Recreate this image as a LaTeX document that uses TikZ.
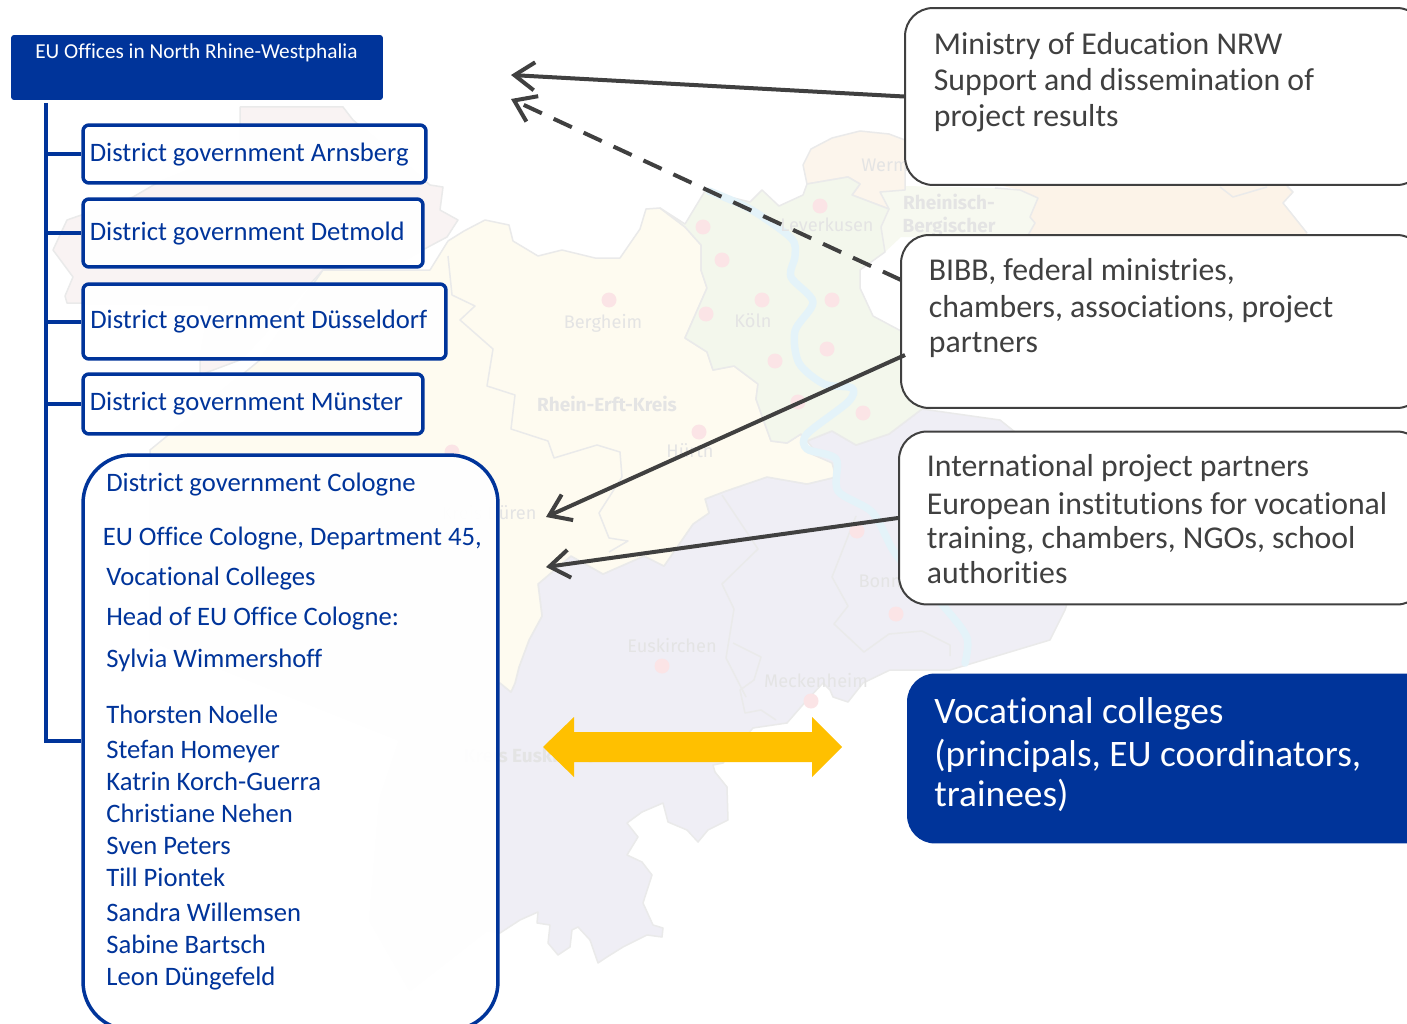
\documentclass[tikz,border=0pt]{standalone}
\usepackage{fontspec}
\setmainfont{Carlito}[Ligatures=CommonOff]
\newfontfamily\mapfont{Fira Sans}
\usetikzlibrary{arrows.meta}
\definecolor{euBlue}{HTML}{00349A}
\definecolor{txtGray}{HTML}{404040}
\definecolor{mapLine}{HTML}{EAEAEA}
\definecolor{mapText}{HTML}{E4E4E4}
\definecolor{riverC}{HTML}{E4F3F9}
\definecolor{dotC}{HTML}{FBE4E6}
\definecolor{HtmlPink}{HTML}{F9F3F3}
\definecolor{HtmlOrangeA}{HTML}{FCF5EC}
\definecolor{HtmlOrangeB}{HTML}{FCF3E8}
\definecolor{HtmlPaleGreen}{HTML}{F7F9F0}
\definecolor{HtmlPurple}{HTML}{EFEEF5}
\definecolor{HtmlYellow}{HTML}{FEFBF0}
\definecolor{HtmlGreen}{HTML}{F3F7EC}
\definecolor{HtmlGold}{HTML}{FFC000}
\newcommand{\setpx}[1]{\fontsize{\dimexpr #1pt*569/1000\relax}{\dimexpr #1pt*700/1000\relax}\selectfont}
\tikzset{
  x=0.02cm,y=-0.02cm,
  region/.style={draw=mapLine,line width=0.03cm,line join=round},
  inner line/.style={draw=mapLine,line width=0.03cm,line join=round},
  river/.style={draw=riverC,line width=0.15cm,line cap=round,line join=round},
  dot/.style={fill=dotC,draw=none,circle,minimum size=0.3cm,inner sep=0pt},
  maplabel/.style={anchor=base,inner sep=0pt,text=mapText,font=\mapfont\setpx{18.2}},
  maplabelB/.style={anchor=base,inner sep=0pt,text=mapText,font=\mapfont\bfseries\setpx{19}},
  distbox/.style={draw=euBlue,line width=0.07cm,fill=white,fill opacity=0.96,rounded corners=0.12cm,inner sep=0pt},
  trunk/.style={draw=euBlue,line width=0.08cm},
  distText/.style={anchor=base west,inner sep=0pt,text=euBlue,font=\setpx{26.65}},
  nameText/.style={anchor=base west,inner sep=0pt,text=euBlue,font=\setpx{26.65}},
  callbox/.style={draw=txtGray,line width=0.04cm,fill=white,rounded corners=0.56cm,inner sep=0pt},
  callText/.style={anchor=base west,inner sep=0pt,text=txtGray,font=\setpx{31.8}},
  bigText/.style={anchor=base west,inner sep=0pt,text=white,font=\setpx{37.4}},
  conn/.style={draw=txtGray,line width=0.08cm,-{Straight Barb[length=0.4cm,width=0.56cm,line width=0.08cm]}},
}
\begin{document}
\begin{tikzpicture}
\path[use as bounding box] (0,0) rectangle (1407,1024);
\clip (0,0) rectangle (1407,1024);
\fill[white] (0,0) rectangle (1407,1024);
% --- faint map ---
\path[region,fill=HtmlPink] (240,107)--(343,107)--(353,120)--(430,185)--(443,187)--(440,210)--(458,220)--(447,237)--(400,262)--(323,270)--(240,360)--(200,375)--(200,360)--(210,305)--(67,303)--(65,296)--(73,277)--(53,250)--(67,220)--(133,197)--(157,183)--(240,150)--cycle;
\path[fill=HtmlOrangeB] (1038,198)--(1020,190)--(995,184)--(1287,184)--(1293,192)--(1283,203)--(1307,233)--(1307,237)--(1027,237)--(1035,223)--(1030,217)--cycle;
\draw[inner line] (1287,186)--(1293,192)--(1283,203)--(1307,233);
\draw[inner line] (1220,187)--(1233,197)--(1267,187);
\path[fill=HtmlPaleGreen] (889,209)--(880,192)--(905,186)--(995,188)--(1020,190)--(1038,198)--(1030,217)--(1035,223)--(1027,237)--(901,237)--(885,252)--(881,227)--cycle;
\draw[inner line] (995,188)--(1020,190)--(1038,198)--(1030,217)--(1035,223)--(1027,237);
\path[region,fill=HtmlOrangeA] (803,165)--(811,149)--(832,138)--(860,131)--(889,134)--(905,140)--(905,190)--(880,192)--(889,209)--(852,195)--(860,184)--(848,177)--(807,184)--cycle;
\path[region,fill=HtmlPurple] (836,477)--(807,484)--(767,477)--(726,491)--(705,499)--(709,513)--(693,524)--(664,566)--(644,556)--(603,574)--(571,556)--(538,584)--(542,616)--(529,640)--(519,667)--(515,683)--(511,692)--(500,683)--(400,740)--(380,800)--(370,920)--(410,990)--(487,930)--(500,933)--(520,920)--(538,912)--(537,923)--(550,925)--(548,943)--(558,955)--(570,947)--(572,930)--(578,927)--(590,940)--(598,963)--(607,957)--(623,947)--(647,935)--(662,937)--(663,928)--(653,925)--(643,903)--(652,875)--(642,862)--(627,855)--(638,837)--(627,823)--(642,812)--(663,803)--(668,822)--(687,830)--(698,842)--(708,830)--(728,820)--(727,787)--(715,772)--(713,765)--(723,763)--(753,728)--(787,723)--(807,700)--(823,683)--(830,690)--(833,697)--(848,702)--(863,683)--(890,670)--(950,670)--(1000,655)--(1050,640)--(1065,610)--(1100,500)--(1000,420)--(922,409)--(889,434)--(856,445)--(832,431)--(807,441)--cycle;
\path[region,fill=HtmlYellow] (448,241)--(464,231)--(485,220)--(509,225)--(513,241)--(538,256)--(562,250)--(595,258)--(620,258)--(640,229)--(646,209)--(660,208)--(685,227)--(701,245)--(701,270)--(707,288)--(685,338)--(707,352)--(713,370)--(734,366)--(758,384)--(756,399)--(762,416)--(771,441)--(787,443)--(801,434)--(807,452)--(832,463)--(836,477)--(807,484)--(767,477)--(726,491)--(705,499)--(709,513)--(693,524)--(664,566)--(644,556)--(603,574)--(571,556)--(538,584)--(542,616)--(529,640)--(519,667)--(515,683)--(511,692)--(500,683)--(400,740)--(300,700)--(150,640)--(150,450)--(260,360)--(323,270)--(430,270)--cycle;
\path[region,fill=HtmlGreen] (660,208)--(685,227)--(701,245)--(701,270)--(707,288)--(685,338)--(707,352)--(713,370)--(734,366)--(758,384)--(756,399)--(762,416)--(771,441)--(787,443)--(801,434)--(807,441)--(832,431)--(856,445)--(889,434)--(922,409)--(1000,380)--(1000,331)--(901,331)--(873,316)--(860,288)--(860,270)--(885,252)--(881,227)--(889,209)--(852,195)--(860,184)--(848,177)--(807,184)--(803,195)--(779,206)--(762,190)--(750,202)--(705,191)--(685,224)--cycle;
\draw[inner line] (448,256)--(452,295)--(475,306)--(460,320)--(493,349)--(487,386)--(515,395)--(511,429)--(548,441)--(554,458)--(597,445)--(620,452)--(622,477)--(599,513)--(609,538)--(628,541)--(609,552);
\draw[inner line] (722,495)--(758,549)--(722,584)--(734,609)--(726,658)--(746,697);
\draw[inner line] (856,516)--(832,577)--(848,606)--(834,624)--(864,652)--(889,634)--(922,631)--(950,645)--(950,656);
\draw[inner line] (733,643)--(761,657)--(754,680)--(740,690)--(745,713)--(761,710)--(776,720);
\draw[river] plot[smooth] coordinates {(709,191)(750,209)(791,238)(795,256)(791,277)(813,302)(795,331)(799,363)(824,384)(852,388)(848,402)(807,434)(807,449)(836,459)(838,491)(873,513)(897,556)(946,609)(967,638)(965,663)};
\foreach \i/\px/\py in {1/703/227,2/722/260,3/609/300,4/762/300,5/832/300,6/706/314,7/827/349,8/775/361,9/798/402,10/863/413,11/699/432,12/820/206,13/857/531,14/896/614,15/662/666,16/811/701,17/452/452}
  \node[dot] (dot\i) at (\px,\py) {};
\node[maplabel] (lev) at (827,232) {Leverkusen};
\node[maplabel] (wer) at (885,172) {Werm};
\node[maplabelB] (rb1) at (949,210) {Rheinisch-};
\node[maplabelB] (rb2) at (949,233) {Bergischer};
\node[maplabel] (berg) at (603,328) {Bergheim};
\node[maplabel] (koln) at (753,327) {Köln};
\node[maplabelB] (rek) at (607,411) {Rhein-Erft-Kreis};
\node[maplabel] (hur) at (690,457) {Hürth};
\node[maplabel] (dur) at (489,519) {Kreis Düren};
\node[maplabel] (eus) at (672,652) {Euskirchen};
\node[maplabel] (bonn) at (880,587) {Bonn};
\node[maplabel] (meck) at (816,687) {Meckenheim};
\node[maplabelB] (keus) at (535,762) {Kreis Euskirchen};
% --- org tree ---
\node[fill=euBlue,rounded corners=0.06cm,inner sep=0pt,minimum width=7.44cm,minimum height=1.3cm] (head) at (197,67.5) {};
\node[anchor=base west,inner sep=0pt,text=white,font=\setpx{21.3}] (headT) at (35,59) {EU Offices in North Rhine-Westphalia};
\coordinate (trunkTop) at (46,103);
\node[distbox,minimum width=6.86cm,minimum height=1.16cm] (arn) at (254.5,154) {};
\node[distbox,minimum width=6.80cm,minimum height=1.36cm] (det) at (253,233) {};
\node[distbox,minimum width=7.26cm,minimum height=1.50cm] (dus) at (264.5,321.5) {};
\node[distbox,minimum width=6.80cm,minimum height=1.20cm] (mun) at (253,404) {};
\node[distbox,rounded corners=0.96cm,minimum width=8.30cm,minimum height=11.5cm] (col) at (290.5,742.5) {};
\coordinate (trunkBot) at (46,741);
\draw[trunk] (trunkTop) -- (trunkBot) -- (col.west |- trunkBot);
\draw[trunk] (trunkTop |- arn.west) -- (arn.west);
\draw[trunk] (trunkTop |- det.west) -- (det.west);
\draw[trunk] (trunkTop |- dus.west) -- (dus.west);
\draw[trunk] (trunkTop |- mun.west) -- (mun.west);
\node[distText] (arnT) at (89.5,161) {District government Arnsberg};
\node[distText] (detT) at (89.5,240) {District government Detmold};
\node[distText] (dusT) at (90,328) {District government Düsseldorf};
\node[distText] (munT) at (89.5,410) {District government Münster};
\node[nameText] (c1) at (106,491) {District government Cologne};
\node[nameText] (c2) at (102.5,545) {EU Office Cologne, Department 45,};
\node[nameText] (c3) at (106,585) {Vocational Colleges};
\node[nameText] (c4) at (106,625) {Head of EU Office Cologne:};
\node[nameText] (c5) at (106,667) {Sylvia Wimmershoff};
\node[nameText] (n1) at (106,723) {Thorsten Noelle};
\node[nameText] (n2) at (106,758) {Stefan Homeyer};
\node[nameText] (n3) at (106,790) {Katrin Korch-Guerra};
\node[nameText] (n4) at (106,822) {Christiane Nehen};
\node[nameText] (n5) at (106,854) {Sven Peters};
\node[nameText] (n6) at (106,886) {Till Piontek};
\node[nameText] (n7) at (106,921) {Sandra Willemsen};
\node[nameText] (n8) at (106,953) {Sabine Bartsch};
\node[nameText] (n9) at (106,985) {Leon Düngefeld};
% --- right boxes ---
\node[callbox,minimum width=10.4cm,minimum height=3.54cm] (minB) at (1165,96.5) {};
\node[callbox,minimum width=10.48cm,minimum height=3.46cm] (bibb) at (1163,321.5) {};
\node[callbox,minimum width=10.52cm,minimum height=3.46cm] (intl) at (1162,518) {};
\node[fill=euBlue,rounded corners=0.56cm,inner sep=0pt,minimum width=10.8cm,minimum height=3.4cm] (voc) at (1177,758.5) {};
\node[callText] (m1) at (933.5,55) {Ministry of Education NRW};
\node[callText] (m2) at (933.5,91) {Support and dissemination of};
\node[callText] (m3) at (933.5,126.5) {project results};
\node[callText] (b1) at (928.5,280.5) {BIBB, federal ministries,};
\node[callText] (b2) at (928.5,317.5) {chambers, associations, project};
\node[callText] (b3) at (928.5,352.5) {partners};
\node[callText] (i1) at (926.5,476.5) {International project partners};
\node[callText] (i2) at (926.5,514.5) {European institutions for vocational};
\node[callText] (i3) at (926.5,548.5) {training, chambers, NGOs, school};
\node[callText] (i4) at (926.5,583.5) {authorities};
\node[bigText] (v1) at (934,723) {Vocational colleges};
\node[bigText] (v2) at (934,766) {(principals, EU coordinators,};
\node[bigText] (v3) at (934,806) {trainees)};
% --- connectors ---
\coordinate (a1) at (511,75);
\coordinate (a2) at (511,99);
\coordinate (a3) at (546,517);
\coordinate (a4) at (546,567);
\coordinate (bibbUp) at (901,280);
\coordinate (bibbLo) at (905,355);
\draw[conn] (minB.west) -- (a1);
\draw[conn,dash pattern=on 0.4cm off 0.26cm] (bibbUp) -- (a2);
\draw[conn] (bibbLo) -- (a3);
\draw[conn] (intl.west) -- (a4);
\fill[HtmlGold] (543,747)--(574,717)--(574,732)--(812,732)--(812,717)--(842,747)--(812,777)--(812,762)--(574,762)--(574,777)--cycle;
\end{tikzpicture}
\end{document}
